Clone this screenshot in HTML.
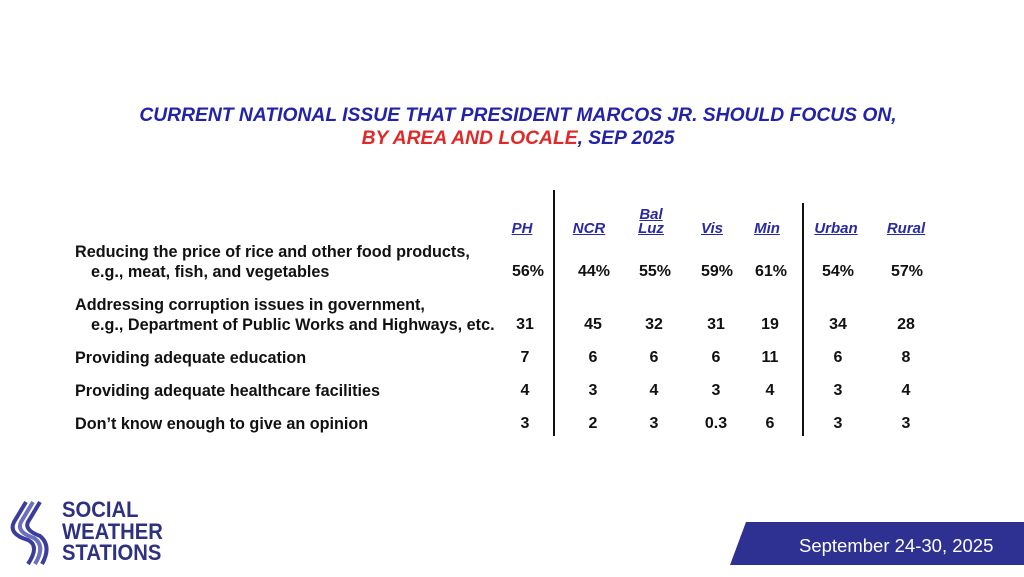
<!DOCTYPE html>
<html><head><style>
body{margin:0;width:1024px;height:577px;background:#fff;position:relative;overflow:hidden;font-family:"Liberation Sans",sans-serif}
.t{position:absolute;left:0;width:1036px;text-align:center;font-weight:bold;font-style:italic;font-size:19.3px}
.a{position:absolute;font-weight:bold;font-size:16.2px;color:#111;white-space:nowrap}
.c{position:absolute;font-weight:bold;font-size:16px;color:#111;transform:translateX(-50%);white-space:nowrap}
.h{position:absolute;font-weight:bold;font-style:italic;font-size:15px;color:#2a2aa0;text-decoration:underline;transform:translateX(-50%);line-height:14px;text-align:center}
.v{position:absolute;width:2px;background:#111}
</style></head><body>
<div class="t" style="top:105px;color:#2323a8">CURRENT NATIONAL ISSUE THAT PRESIDENT MARCOS JR. SHOULD FOCUS ON,</div>
<div class="t" style="top:128px;"><span style="color:#e02a2a">BY AREA AND LOCALE</span><span style="color:#2323a8">, SEP 2025</span></div>
<div class="v" style="left:553px;top:190px;height:246px"></div>
<div class="v" style="left:802px;top:203px;height:233px"></div>
<div class="h" style="left:522px;top:222px">PH</div>
<div class="h" style="left:589px;top:222px">NCR</div>
<div class="h" style="left:651px;top:208px"><span style="text-decoration:none">Bal</span><br>Luz</div>
<div class="h" style="left:712px;top:222px">Vis</div>
<div class="h" style="left:767px;top:222px">Min</div>
<div class="h" style="left:836px;top:222px">Urban</div>
<div class="h" style="left:906px;top:222px">Rural</div>
<div class="a" style="left:75px;top:243px">Reducing the price of rice and other food products,</div>
<div class="a" style="left:91px;top:263px">e.g., meat, fish, and vegetables</div>
<div class="a" style="left:75px;top:296px">Addressing corruption issues in government,</div>
<div class="a" style="left:91px;top:316px">e.g., Department of Public Works and Highways, etc.</div>
<div class="a" style="left:75px;top:349px">Providing adequate education</div>
<div class="a" style="left:75px;top:382px">Providing adequate healthcare facilities</div>
<div class="a" style="left:75px;top:415px">Don’t know enough to give an opinion</div>
<div class="c" style="left:528px;top:263px">56%</div><div class="c" style="left:594px;top:263px">44%</div><div class="c" style="left:655px;top:263px">55%</div><div class="c" style="left:717px;top:263px">59%</div><div class="c" style="left:771px;top:263px">61%</div><div class="c" style="left:838px;top:263px">54%</div><div class="c" style="left:907px;top:263px">57%</div>
<div class="c" style="left:525px;top:316px">31</div><div class="c" style="left:593px;top:316px">45</div><div class="c" style="left:654px;top:316px">32</div><div class="c" style="left:716px;top:316px">31</div><div class="c" style="left:770px;top:316px">19</div><div class="c" style="left:838px;top:316px">34</div><div class="c" style="left:906px;top:316px">28</div>
<div class="c" style="left:525px;top:349px">7</div><div class="c" style="left:593px;top:349px">6</div><div class="c" style="left:654px;top:349px">6</div><div class="c" style="left:716px;top:349px">6</div><div class="c" style="left:770px;top:349px">11</div><div class="c" style="left:838px;top:349px">6</div><div class="c" style="left:906px;top:349px">8</div>
<div class="c" style="left:525px;top:382px">4</div><div class="c" style="left:593px;top:382px">3</div><div class="c" style="left:654px;top:382px">4</div><div class="c" style="left:716px;top:382px">3</div><div class="c" style="left:770px;top:382px">4</div><div class="c" style="left:838px;top:382px">3</div><div class="c" style="left:906px;top:382px">4</div>
<div class="c" style="left:525px;top:415px">3</div><div class="c" style="left:593px;top:415px">2</div><div class="c" style="left:654px;top:415px">3</div><div class="c" style="left:716px;top:415px">0.3</div><div class="c" style="left:770px;top:415px">6</div><div class="c" style="left:838px;top:415px">3</div><div class="c" style="left:906px;top:415px">3</div>
<svg style="position:absolute;left:6px;top:500px" width="56" height="66"><g fill="none" stroke="#3a3d9a" stroke-width="4"><path d="M20 2 L8 22 Q2 34 22 40 Q34 46 22 64"/><path d="M27 2 L15 22 Q10 32 28 38 Q40 46 29 64" stroke="#6b6fc0"/><path d="M34 2 L22 22 Q18 30 34 36 Q46 46 36 64"/></g></svg>
<div style="position:absolute;left:62px;top:499px;font-weight:bold;font-size:22px;line-height:21.5px;color:#2e3180;transform:scaleX(0.92);transform-origin:left">SOCIAL<br>WEATHER<br>STATIONS</div>
<div style="position:absolute;left:730px;top:522px;width:300px;height:43px;background:#2e3192;clip-path:polygon(16px 0,100% 0,100% 100%,0 100%)"></div>
<div style="position:absolute;left:799px;top:535px;color:#fff;font-size:18.5px">September 24-30, 2025</div>
</body></html>
